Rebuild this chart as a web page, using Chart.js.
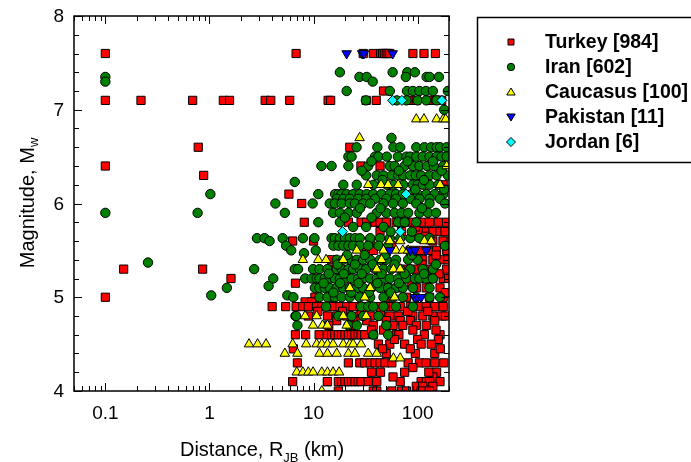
<!DOCTYPE html>
<html lang="en">
<head>
  <meta charset="UTF-8">
  <title>Magnitude vs distance</title>
  <script src="https://cdn.jsdelivr.net/npm/chart.js"></script>
  <style>
    body { margin: 0; background: #fff; }
    #wrap { width: 691px; height: 462px; }
  </style>
</head>
<body>
  <div id="wrap"><canvas id="plot" width="691" height="462"></canvas></div>

  <script>
    // [R_JB (km), Mw]
    const turkey = [
      [0.1,7.6],[0.1,7.1],[0.1,6.4],[0.1,5.0],[0.15,5.3],[0.22,7.1],[0.69,7.1],[0.78,6.6],[0.88,6.3],[0.86,5.3],
      [1.36,7.1],[1.56,7.1],[1.61,5.2],[3.43,7.1],[3.88,7.1],[5.9,7.1],[6.8,7.6],[13.8,7.1],[14.6,7.1],
      [4.0,4.9],[5.4,4.9],[5.8,6.1],[6.3,5.6],[6.3,4.1],[6.7,5.15],[7.7,6.0],[8.15,5.8],[10,5.6],[13.6,4.1],
      [30,7.6],[37.5,7.6],[44,7.6],[46,7.6],[48,7.6],[50,7.6],[52,7.6],[54,7.6],[90,7.6],[115,7.6],[148,7.6],
      [47,7.2],[32,7.1],[40,7.1],[83,7.1],[97,7.1],[130,7.1],[140,7.1],[150,7.1],[155,7.1],[164,7.1],[170,7.1],
      [22.3,6.6],[28.5,6.4],[43.5,6.4],[176,6.2],[21.6,5.8],
      [28.6,5.8],[32.4,5.8],[39,5.8],[43.5,5.8],[50,5.8],[62,5.8],[75,5.8],[90,5.8],[108,5.8],[130,5.8],[158,5.8],[190,5.8],
      [43.5,5.7],[104,5.7],[121,5.7],[140,5.7],[164,5.7],[183,5.7],
      [35,5.6],[140,5.6],[190,5.6],
      [32,5.5],[37.5,5.5],[85,5.5],[104,5.5],[126,5.5],[152,5.5],[190,5.5],
      [14.9,5.4],[47,5.4],[112,5.4],[140,5.4],[164,5.4],[195,5.4],
      [14.3,5.3],[78,5.3],[97,5.3],[126,5.3],[190,5.3],
      [78,5.2],[104,5.2],[140,5.2],[176,5.2],[198,5.2],
      [52,5.1],[70,5.1],[97,5.1],[121,5.1],[164,5.1],
      [10.3,5.0],[15.4,5.0],[50,5.0],[78,5.0],[130,5.0],[176,5.0],
      [8.3,4.95],[9.6,4.95],
      [6.8,4.9],[7.9,4.9],[8.9,4.9],[10.7,4.9],[12,4.9],[13.6,4.9],[15.4,4.9],[17.9,4.9],[20.8,4.9],[24,4.9],[27.8,4.9],
      [32,4.9],[40.5,4.9],[50,4.9],[58.5,4.9],[68,4.9],[85,4.9],[104,4.9],[121,4.9],[146,4.9],[176,4.9],
      [8.9,4.8],[13.6,4.8],[16.7,4.8],[20.8,4.8],[27.8,4.8],[35,4.8],[43.5,4.8],[54,4.8],[65,4.8],[90,4.8],[112,4.8],[140,4.8],[170,4.8],
      [16.7,4.75],[24,4.75],[32.4,4.75],[50,4.75],[68,4.75],[85,4.75],[146,4.75],
      [37.5,4.7],[72,4.7],[97,4.7],[121,4.7],[47,4.65],[90,4.65],
      [6.7,4.6],[8.4,4.6],[11.3,4.6],[13.6,4.6],[14.9,4.6],[16,4.6],[17.3,4.6],[18.6,4.6],[20,4.6],[21.6,4.6],[23.2,4.6],
      [25,4.6],[26.8,4.6],[28.6,4.6],[31,4.6],[37.5,4.6],[62,4.6],[116,4.6],[164,4.6],
      [100,4.55],[158,4.55],[42,4.5],[54,4.5],[75,4.5],[108,4.5],[135,4.5],[6.4,4.45],[50,4.4],[146,4.4],
      [7.0,4.3],[21.6,4.3],[27.8,4.3],[31,4.3],[35,4.3],[39,4.3],[43.5,4.3],[48.5,4.3],[56.5,4.3],[81,4.3],[104,4.3],[146,4.3],
      [36,4.2],[75,4.2],[152,4.2],[140,4.15],
      [13.6,4.1],[17.3,4.1],[18.6,4.1],[20,4.1],[21.6,4.1],[23.2,4.1],[25,4.1],[26.8,4.1],[28.6,4.1],[33.5,4.1],[40.5,4.1],
      [68,4.1],[108,4.1],[121,4.1],[130,4.1],[164,4.1],
      [97,4.05],[112,4.05],[140,4.05],
      [17.3,4.0],[37.5,4.0],[40.5,4.0],[56.5,4.0],[70,4.0],[78,4.0],[108,4.0],[130,4.0],
      [11,4.85],[14,4.7],[19,4.85],[23,4.7],[29,4.85],[36,4.65],[44,4.85],[58,4.7],[66,4.6],[80,4.85],[95,4.4],
      [125,4.85],[150,4.65],[185,4.8],[46,4.45],[60,4.55],[85,4.45],[120,4.3],[165,4.45],[44,4.2],[58,4.15],
      [90,4.25],[128,4.2],[178,4.3],[185,5.05],[160,5.25],[110,5.35],[88,5.15],[150,5.45],[175,5.6],[120,5.65],
      [95,5.75],[70,5.7],[56,5.55]
    ];

    const iran = [
      [0.1,7.35],[0.1,7.3],[0.1,5.9],[0.257,5.37],[0.77,5.9],[1.02,6.1],[1.04,5.02],[1.47,5.1],
      [2.69,5.3],[2.86,5.63],[3.38,5.63],[3.78,5.6],[3.7,5.12],[4.1,5.2],[4.3,6.0],
      [5.05,5.63],[5.3,5.9],[5.45,5.55],[6.1,5.5],[6.6,6.23],[5.6,5.02],[6.4,5.0],[6.6,5.3],[7.1,5.3],
      [6.7,4.8],[7.0,4.7],[7.9,5.63],[8.1,5.47],[8.3,5.2],[9.8,6.0],[11.1,6.1],[11.1,5.8],[11.9,6.4],[14.9,6.4],
      [10.2,5.63],[10.5,5.5],
      [17.9,7.4],[57.5,7.4],[79.5,7.4],[94,7.4],
      [27.6,7.35],[32.4,7.35],[77,7.35],[122,7.35],[130,7.35],[160,7.35],[37,7.3],
      [20.8,7.2],[54,7.2],[79,7.2],[90,7.2],[104,7.2],[120,7.2],[140,7.2],[195,7.2],
      [31.8,7.1],[63,7.1],[78,7.1],[100,7.1],[121,7.1],[152,7.1],[180,7.0],
      [56,6.7],
      [25.9,6.6],[41,6.6],[58.5,6.6],[68,6.6],[97,6.6],[116,6.6],[135,6.6],[152,6.6],[164,6.6],[190,6.6],
      [21.6,6.5],[23.2,6.5],[39,6.5],[42,6.5],[50.5,6.5],[64.6,6.5],[78,6.5],[84.7,6.5],[97,6.5],[112,6.5],[130,6.5],[152,6.5],[170,6.5],[190,6.5],
      [21.6,6.4],[33.5,6.4],[54,6.4],[60,6.4],[75,6.4],[90,6.4],[104,6.4],[123,6.4],[143,6.4],[176,6.4],
      [32,6.3],[40.5,6.3],[47,6.3],[56.5,6.3],[65,6.3],[72.5,6.3],[84.7,6.3],[96,6.3],[108,6.3],[130,6.3],[152,6.3],[195,6.3],
      [19.3,6.2],[26,6.2],[37.5,6.2],[50.5,6.2],[58.5,6.2],[72.5,6.2],[90,6.2],[100,6.2],[112,6.2],[130,6.2],[158,6.2],
      [16.1,6.1],[17.3,6.1],[18.6,6.1],[20.8,6.1],[24,6.1],[27.8,6.1],[32.4,6.1],[37.5,6.1],[45,6.1],[54,6.1],[62,6.1],
      [72,6.1],[87,6.1],[100,6.1],[121,6.1],[146,6.1],[176,6.1],
      [16.7,6.05],[19.3,6.05],[22.3,6.05],[26.8,6.05],[32,6.05],[39,6.05],[50,6.05],[62,6.05],[85,6.05],[104,6.05],[130,6.05],[164,6.05],
      [14.3,6.0],[16,6.0],[18.6,6.0],[22.3,6.0],[25,6.0],[30,6.0],[35,6.0],[47,6.0],[58,6.0],[72,6.0],[97,6.0],[130,6.0],[183,6.0],
      [15.4,5.9],[17.9,5.9],[21.6,5.9],[26,5.9],[40.5,5.9],[50,5.9],[60,5.9],[70,5.9],[81,5.9],[104,5.9],[126,5.9],
      [17.9,5.8],[65,5.8],[75,5.8],[97,5.8],[24,5.75],[32,5.75],[47,5.75],
      [14.9,5.63],[16,5.63],[17.9,5.63],[20,5.63],[22.3,5.63],[25,5.63],[27.8,5.63],[35,5.63],[43.5,5.63],[54,5.63],
      [68,5.63],[85,5.63],[104,5.63],[130,5.63],[183,5.55],
      [15.5,5.55],[17.3,5.55],[19.3,5.55],[21.6,5.55],[24,5.55],[27.8,5.55],[33.5,5.55],[42,5.55],[52,5.55],
      [16.7,5.4],[19.3,5.4],[22.3,5.4],[26,5.4],[30,5.4],[35,5.4],[43.5,5.4],[50,5.4],[62,5.4],[81,5.4],[100,5.4],
      [9.9,5.3],[11.4,5.3],[13.6,5.3],[16.7,5.3],[18.6,5.3],[21.6,5.3],[24,5.3],[27.8,5.3],[32,5.3],[39,5.3],[47,5.3],
      [56,5.3],[68,5.3],[85,5.3],[112,5.3],[140,5.3],
      [9.6,5.2],[10.7,5.2],[11.4,5.2],[12.8,5.2],[14.3,5.2],[16,5.2],[17.9,5.2],[20.8,5.2],[23.2,5.2],[26.8,5.2],[30,5.2],
      [35,5.2],[40.5,5.2],[47,5.2],[54,5.2],[65,5.2],[78,5.2],[94,5.2],[104,5.2],[121,5.2],[140,5.2],
      [10.3,5.1],[11.4,5.1],[12.8,5.1],[14.3,5.1],[16.7,5.1],[19.3,5.1],[22.3,5.1],[26,5.1],[30,5.1],[36,5.1],[43.5,5.1],
      [52,5.1],[62,5.1],[72,5.1],[90,5.1],[130,5.1],
      [11.4,5.0],[13.6,5.0],[16,5.0],[18.6,5.0],[22.3,5.0],[27.8,5.0],[35,5.0],[47,5.0],[58,5.0],[72,5.0],[97,5.0],[130,5.0],[164,5.0],
      [13.2,4.9],[28.6,4.9],[33.5,4.9],[37.5,4.9],[47,4.9],[62,4.9],[90,4.9],
      [6.8,4.8],[17.3,4.8],[23.2,4.8],[30,4.8],[42,4.8],
      [21.6,4.7],[26,4.7],[50,4.7],[37.5,4.6],[52,4.6],
      [12.5,5.15],[14,5.25],[15.5,5.05],[17,5.35],[18,5.15],[19.5,5.25],[21,5.45],[23,5.05],[25,5.35],[27,5.15],
      [29,5.25],[31,5.45],[34,5.05],[37,5.35],[41,5.15],[45,5.25],[49,5.45],[55,5.05],[60,5.35],[66,5.15],[75,5.25],
      [88,5.45],[115,5.25],[150,5.35],
      [20,5.85],[28,5.95],[36,5.85],[44,5.95],[55,5.7],[88,5.7],[110,5.95],[150,5.9],[180,6.15],[170,6.35],[140,6.45],
      [115,6.25],[95,6.15],[80,6.45],[66,6.35],[46,6.25],[36,6.45],[29,6.35]
    ];

    const caucasus = [
      [2.4,4.5],[2.9,4.5],[3.5,4.5],
      [5.3,4.4],[7.0,4.4],[11.4,4.4],[13.6,4.4],[16.7,4.4],[21.6,4.4],[25,4.4],[33.5,4.4],[40.5,4.4],
      [6.3,4.5],[8.5,4.5],[10.7,4.5],[12,4.5],[13.6,4.5],[15.4,4.5],[19.3,4.5],[22.3,4.5],[24,4.5],[28.6,4.5],
      [6.9,4.2],[7.9,4.2],[8.9,4.2],[9.9,4.2],[12,4.2],[13.6,4.2],[15.4,4.2],[17.6,4.2],
      [12,4.0],[58.5,4.35],[68,4.35],
      [8.3,4.8],[10.7,4.8],[19.3,4.8],[32,4.8],
      [9.9,4.7],[12.2,4.7],[13.6,4.7],[20.8,4.7],
      [31,5.0],[60,5.0],[22.3,5.1],[35,5.1],
      [7.9,5.4],[11.1,5.4],[13.2,5.4],[19.3,5.4],[45,5.4],
      [40.5,5.3],[58.5,5.3],[68,5.3],
      [26,5.5],[47,5.5],[62,5.5],[72,5.5],[81,5.5],
      [54,5.6],[68,5.6],[116,5.6],[135,5.6],
      [33.5,6.2],[44.5,6.2],[52,6.2],[65,6.2],[164,6.2],[190,6.4],[27.7,6.7],
      [97,6.9],[115,6.9],[152,6.9],[176,6.9],[186,6.9]
    ];

    const pakistan = [
      [20.8,7.6],[29.3,7.6],[30.5,7.6],[57.5,7.6],
      [54,5.5],[85,5.5],[94,5.5],[121,5.5],
      [94,5.0],[100,5.0],[108,5.0]
    ];

    const jordan = [
      [57.5,7.1],[70.5,7.1],[171,7.1],[77.5,6.1],[19,5.7],[68,5.7]
    ];

    const xMajor = [0.1, 1, 10, 100];
    const yMajor = [4, 5, 6, 7, 8];
    const legendNames = ['Turkey [984]', 'Iran [602]', 'Caucasus [100]', 'Pakistan [11]', 'Jordan [6]'];

    const FONT = '"Liberation Sans", Arial, sans-serif';

    function toPoints(arr) {
      return arr.map(p => ({ x: p[0], y: p[1] }));
    }

    // small marker for the legend
    function marker(ctx, kind, x, y, fill) {
      ctx.save();
      ctx.fillStyle = fill;
      ctx.strokeStyle = '#000';
      ctx.lineWidth = 1;
      ctx.beginPath();
      if (kind === 'rect') {
        ctx.rect(x - 3, y - 3, 6, 6);
      } else if (kind === 'circle') {
        ctx.arc(x, y, 3.7, 0, Math.PI * 2);
      } else if (kind === 'up') {
        ctx.moveTo(x, y - 4); ctx.lineTo(x + 4.2, y + 3); ctx.lineTo(x - 4.2, y + 3); ctx.closePath();
      } else if (kind === 'down') {
        ctx.moveTo(x, y + 4); ctx.lineTo(x + 4.2, y - 3); ctx.lineTo(x - 4.2, y - 3); ctx.closePath();
      } else {
        ctx.moveTo(x, y - 4.5); ctx.lineTo(x + 4.5, y); ctx.lineTo(x, y + 4.5); ctx.lineTo(x - 4.5, y); ctx.closePath();
      }
      ctx.fill();
      ctx.stroke();
      ctx.restore();
    }

    const frame = {
      id: 'frame',
      afterDatasetsDraw(chart) {
        const ctx = chart.ctx;
        const a = chart.chartArea;
        const xs = chart.scales.x, ys = chart.scales.y;
        ctx.save();
        ctx.strokeStyle = '#000';
        ctx.lineWidth = 1.5;
        ctx.strokeRect(a.left, a.top, a.right - a.left, a.bottom - a.top);

        // inward ticks on all four sides
        ctx.lineWidth = 1;
        ctx.beginPath();
        for (let e = -2; e <= 2; e++) {
          for (let k = 1; k <= 9; k++) {
            const v = k * Math.pow(10, e);
            if (v < 0.05 || v > 200) continue;
            const px = Math.round(xs.getPixelForValue(v)) + 0.5;
            const len = k === 1 ? 8 : 5;
            ctx.moveTo(px, a.bottom); ctx.lineTo(px, a.bottom - len);
            ctx.moveTo(px, a.top); ctx.lineTo(px, a.top + len);
          }
        }
        for (let i = 0; i <= 20; i++) {
          const v = 4 + i * 0.2;
          const py = Math.round(ys.getPixelForValue(v)) + 0.5;
          const len = i % 5 === 0 ? 8 : 5;
          ctx.moveTo(a.left, py); ctx.lineTo(a.left + len, py);
          ctx.moveTo(a.right, py); ctx.lineTo(a.right - len, py);
        }
        ctx.stroke();

        // tick labels
        ctx.fillStyle = '#000';
        ctx.font = '19px ' + FONT;
        ctx.textAlign = 'center';
        ctx.textBaseline = 'alphabetic';
        xMajor.forEach(v => ctx.fillText(String(v), xs.getPixelForValue(v), 419));
        ctx.textAlign = 'right';
        ctx.textBaseline = 'middle';
        yMajor.forEach(v => ctx.fillText(String(v), 64, ys.getPixelForValue(v) + 1));

        // x title with subscript
        ctx.textBaseline = 'alphabetic';
        ctx.textAlign = 'left';
        const p1 = 'Distance, R', sub = 'JB', p2 = ' (km)';
        ctx.font = '20px ' + FONT;
        const w1 = ctx.measureText(p1).width, w3 = ctx.measureText(p2).width;
        ctx.font = '13px ' + FONT;
        const w2 = ctx.measureText(sub).width;
        let x0 = 262 - (w1 + w2 + w3) / 2;
        ctx.font = '20px ' + FONT;
        ctx.fillText(p1, x0, 456);
        ctx.font = '13px ' + FONT;
        ctx.fillText(sub, x0 + w1, 462);
        ctx.font = '20px ' + FONT;
        ctx.fillText(p2, x0 + w1 + w2, 456);

        // y title, rotated
        ctx.save();
        ctx.translate(34, 203);
        ctx.rotate(-Math.PI / 2);
        const q1 = 'Magnitude, M', qs = 'w';
        ctx.font = '20px ' + FONT;
        const v1 = ctx.measureText(q1).width;
        ctx.font = '13px ' + FONT;
        const v2 = ctx.measureText(qs).width;
        const y0 = -(v1 + v2) / 2;
        ctx.font = '20px ' + FONT;
        ctx.fillText(q1, y0, 0);
        ctx.font = '13px ' + FONT;
        ctx.fillText(qs, y0 + v1, 4);
        ctx.restore();

        // legend box
        ctx.lineWidth = 1.5;
        ctx.strokeRect(477.5, 17.5, 230, 145);
        const kinds = ['rect', 'circle', 'up', 'down', 'diamond'];
        const fills = ['#ff0000', '#008000', '#ffff00', '#0000ff', '#00ffff'];
        ctx.font = 'bold 19.5px ' + FONT;
        ctx.textAlign = 'left';
        ctx.textBaseline = 'middle';
        legendNames.forEach((name, i) => {
          const yy = 42 + i * 25;
          marker(ctx, kinds[i], 511, yy, fills[i]);
          ctx.fillStyle = '#000';
          ctx.fillText(name, 545, yy + 1);
        });
        ctx.restore();
      }
    };

    const common = { borderColor: '#000', borderWidth: 1, pointHoverRadius: 5 };

    new Chart(document.getElementById('plot'), {
      type: 'scatter',
      data: {
        datasets: [
          { ...common, label: legendNames[4], data: toPoints(jordan), backgroundColor: '#00ffff', pointStyle: 'rectRot', pointRadius: 5, order: 1 },
          { ...common, label: legendNames[3], data: toPoints(pakistan), backgroundColor: '#0000ff', pointStyle: 'triangle', rotation: 180, pointRadius: 5.5, order: 2 },
          { ...common, label: legendNames[2], data: toPoints(caucasus), backgroundColor: '#ffff00', pointStyle: 'triangle', pointRadius: 5.5, order: 3 },
          { ...common, label: legendNames[1], data: toPoints(iran), backgroundColor: '#008000', pointStyle: 'circle', pointRadius: 4.7, order: 4 },
          { ...common, label: legendNames[0], data: toPoints(turkey), backgroundColor: '#ff0000', pointStyle: 'rect', pointRadius: 5.8, order: 5 }
        ]
      },
      options: {
        responsive: false,
        animation: false,
        layout: { padding: { left: 74, top: 16, right: 242, bottom: 71 } },
        plugins: { legend: { display: false }, tooltip: { enabled: false } },
        scales: {
          x: { type: 'logarithmic', min: 0.05, max: 200, display: false },
          y: { type: 'linear', min: 4, max: 8, display: false }
        }
      },
      plugins: [frame]
    });
  </script>
</body>
</html>
